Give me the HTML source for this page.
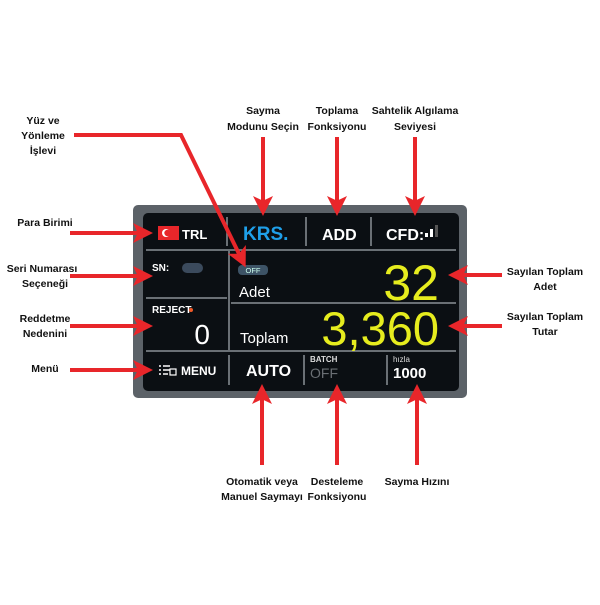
<!DOCTYPE html>
<html><head><meta charset="utf-8"><style>
body{margin:0;background:#fff;}
svg text{font-family:"Liberation Sans","DejaVu Sans",sans-serif;}
</style></head><body>
<svg width="600" height="600" viewBox="0 0 600 600" xmlns="http://www.w3.org/2000/svg">
<defs>
<marker id="ah" markerWidth="5" markerHeight="5" refX="3.5" refY="2.5" orient="auto" markerUnits="strokeWidth">
<path d="M0,0 L5,2.5 L0,5 L1.2,2.5 Z" fill="#e8262a"/></marker>
</defs>
<rect width="600" height="600" fill="#fff"/>
<rect x="133" y="205" width="334" height="193" rx="5" fill="#5c6268"/>
<rect x="143" y="213" width="316" height="178" rx="5" fill="#0b0f13"/>
<g stroke="#8a9096" stroke-width="1.5">
<line x1="146" y1="250" x2="456" y2="250"/>
<line x1="146" y1="351" x2="456" y2="351"/>
<line x1="229" y1="251" x2="229" y2="350"/>
<line x1="146" y1="298" x2="227" y2="298"/>
<line x1="231" y1="303" x2="456" y2="303"/>
<line x1="227" y1="217" x2="227" y2="246"/>
<line x1="306" y1="217" x2="306" y2="246"/>
<line x1="371" y1="217" x2="371" y2="246"/>
<line x1="229" y1="355" x2="229" y2="385"/>
<line x1="304" y1="355" x2="304" y2="385"/>
<line x1="387" y1="355" x2="387" y2="385"/>
</g>
<rect x="158" y="226" width="21" height="14" fill="#e8262a"/>
<circle cx="166" cy="233" r="4" fill="#fff"/><circle cx="167.5" cy="233" r="3.2" fill="#e8262a"/>
<text x="182" y="239" font-size="13" font-weight="bold" fill="#fff">TRL</text>
<text x="243" y="240" font-size="19" font-weight="bold" fill="#1fa0ea">KRS.</text>
<text x="322" y="240" font-size="16" font-weight="bold" fill="#fff">ADD</text>
<text x="386" y="240" font-size="16" font-weight="bold" fill="#fff">CFD:</text>
<rect x="425" y="233" width="3" height="4" fill="#fff"/><rect x="430" y="229" width="3" height="8" fill="#fff"/><rect x="435" y="225" width="3" height="12" fill="#555"/>
<text x="152" y="271" font-size="10" font-weight="bold" fill="#fff">SN:</text>
<rect x="182" y="263" width="21" height="10" rx="5" fill="#3b4a5c"/>
<text x="152" y="313" font-size="10" font-weight="bold" fill="#fff">REJECT</text>
<circle cx="191" cy="310" r="2" fill="#f05a28"/>
<text x="210" y="344" font-size="28" fill="#fff" text-anchor="end">0</text>
<rect x="238" y="265" width="30" height="10" rx="4" fill="#3d5366"/>
<text x="253" y="273" font-size="7.5" fill="#cfe" text-anchor="middle">OFF</text>
<text x="239" y="297" font-size="15" fill="#fff">Adet</text>
<text x="439" y="300" font-size="50" fill="#e6ec1e" text-anchor="end">32</text>
<text x="240" y="343" font-size="15" fill="#fff">Toplam</text>
<text x="439" y="345" font-size="47" fill="#e6ec1e" text-anchor="end">3,360</text>
<g stroke="#fff" stroke-width="1.5"><line x1="159" y1="366" x2="161" y2="366"/><line x1="163" y1="366" x2="170" y2="366"/><line x1="159" y1="370" x2="161" y2="370"/><line x1="163" y1="370" x2="170" y2="370"/><line x1="159" y1="374" x2="161" y2="374"/><line x1="163" y1="374" x2="168" y2="374"/></g>
<rect x="170" y="369" width="6" height="6" fill="none" stroke="#fff" stroke-width="1.2"/>
<text x="181" y="375" font-size="12" font-weight="bold" fill="#fff">MENU</text>
<text x="246" y="376" font-size="16" font-weight="bold" fill="#fff">AUTO</text>
<text x="310" y="362" font-size="8" font-weight="bold" fill="#ddd">BATCH</text>
<text x="310" y="378" font-size="14" fill="#6a6f74">OFF</text>
<text x="393" y="362" font-size="8" fill="#ddd">hızla</text>
<text x="393" y="378" font-size="15" font-weight="bold" fill="#fff">1000</text>
<g stroke="#e8262a" stroke-width="4" fill="none" marker-end="url(#ah)">
<line x1="263" y1="137" x2="263" y2="210"/>
<line x1="337" y1="137" x2="337" y2="210"/>
<line x1="415" y1="137" x2="415" y2="210"/>
<polyline points="74,135 181,135 243,262"/>
<line x1="70" y1="233" x2="147" y2="233"/>
<line x1="70" y1="276" x2="147" y2="276"/>
<line x1="70" y1="326" x2="147" y2="326"/>
<line x1="70" y1="370" x2="147" y2="370"/>
<line x1="502" y1="275" x2="454" y2="275"/>
<line x1="502" y1="326" x2="454" y2="326"/>
<line x1="262" y1="465" x2="262" y2="390"/>
<line x1="337" y1="465" x2="337" y2="390"/>
<line x1="417" y1="465" x2="417" y2="390"/>
</g>
<g font-size="10.5" font-weight="bold" fill="#111" text-anchor="middle">
<text x="263" y="114">Sayma</text><text x="263" y="130">Modunu Seçin</text>
<text x="337" y="114">Toplama</text><text x="337" y="130">Fonksiyonu</text>
<text x="415" y="114">Sahtelik Algılama</text><text x="415" y="130">Seviyesi</text>
<text x="43" y="124">Yüz ve</text><text x="43" y="139">Yönleme</text><text x="43" y="154">İşlevi</text>
<text x="45" y="226">Para Birimi</text>
<text x="42" y="272">Seri Numarası</text><text x="45" y="287">Seçeneği</text>
<text x="45" y="322">Reddetme</text><text x="45" y="337">Nedenini</text>
<text x="45" y="372">Menü</text>
<text x="545" y="275">Sayılan Toplam</text><text x="545" y="290">Adet</text>
<text x="545" y="320">Sayılan Toplam</text><text x="545" y="335">Tutar</text>
<text x="262" y="485">Otomatik veya</text><text x="262" y="500">Manuel Saymayı</text>
<text x="337" y="485">Desteleme</text><text x="337" y="500">Fonksiyonu</text>
<text x="417" y="485">Sayma Hızını</text>
</g>
</svg>
</body></html>
